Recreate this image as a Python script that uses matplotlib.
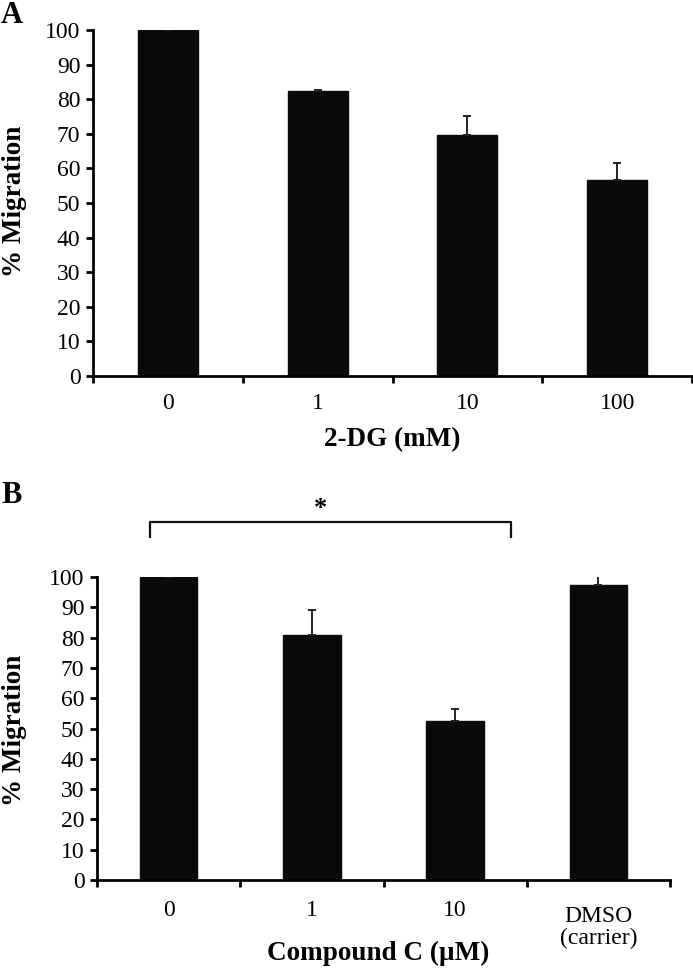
import numpy as np
import matplotlib
matplotlib.use("Agg")
import matplotlib.pyplot as plt
import matplotlib.transforms as mtransforms

# Panel A: 2-DG
dg_labels = ['0', '1', '10', '100']
dg_values = [100, 82.3, 69.7, 56.6]
dg_err = [0.2, 0.4, 5.5, 5.0]

# Panel B: Compound C
cc_labels = ['0', '1', '10', 'DMSO\n(carrier)']
cc_values = [100, 81.0, 52.6, 97.4]
cc_err = [0.0, 8.0, 3.7, 3.0]

plt.rcParams['font.family'] = ['Liberation Serif', 'DejaVu Serif']

W, H = 693, 972
fig = plt.figure(figsize=(W / 100, H / 100), dpi=100)

TICK_FS = 17
LABEL_FS = 19.5


def px_axes(l, t, r, b):
    return fig.add_axes([l / W, 1 - b / H, (r - l) / W, (b - t) / H])


def fy(py):
    return 1 - py / H


def style(ax, n):
    for s in ['top', 'right']:
        ax.spines[s].set_visible(False)
    for s in ['left', 'bottom']:
        ax.spines[s].set_linewidth(2)
    ax.set_xlim(-0.5, n - 0.5)
    ax.set_ylim(0, 100)
    ax.set_yticks(range(0, 101, 10))
    ax.tick_params(axis='y', direction='out', length=5, width=2, pad=4, labelsize=TICK_FS)
    ax.set_xticks([])
    ax.set_xticks(np.arange(-0.5, n), minor=True)
    ax.tick_params(axis='x', which='minor', direction='out', length=5, width=2)


def bars(ax, values, err, labels, label_top_px):
    x = np.arange(len(values))
    ax.bar(x, values, width=0.4, color='#0a0a0a', edgecolor='#0a0a0a', zorder=2)
    ax.errorbar(x, values, yerr=[np.zeros(len(err)), err], fmt='none',
                ecolor='#222222', elinewidth=1.4, capsize=3, capthick=1.4, zorder=3)
    trans = mtransforms.blended_transform_factory(ax.transData, fig.transFigure)
    for xi, lab in zip(x, labels):
        top = label_top_px + (6 if '\n' in lab else 0)
        ax.text(xi, fy(top), lab, transform=trans, ha='center', va='top',
                fontsize=TICK_FS, linespacing=1.05)


# Panel A
axA = px_axes(93, 30, 692, 376)
bars(axA, dg_values, dg_err, dg_labels, 393)
style(axA, len(dg_values))
fig.text((93 + 692) / 2 / W, fy(440), '2-DG (mM)', ha='center', va='center',
         fontsize=LABEL_FS, fontweight='bold')
fig.text(15 / W, fy(201), '% Migration', rotation=90, ha='center', va='center',
         fontsize=LABEL_FS, fontweight='bold')
fig.text(1 / W, fy(23), 'A', ha='left', va='baseline', fontsize=22, fontweight='bold')

# Panel B
axB = px_axes(97, 577, 670, 880)
bars(axB, cc_values, cc_err, cc_labels, 900)
style(axB, len(cc_values))
fig.text(378 / W, fy(953), 'Compound C (µM)', ha='center', va='center',
         fontsize=LABEL_FS, fontweight='bold')
fig.text(15 / W, fy(730), '% Migration', rotation=90, ha='center', va='center',
         fontsize=LABEL_FS, fontweight='bold')
fig.text(1 / W, fy(503), 'B', ha='left', va='baseline', fontsize=22, fontweight='bold')

# significance bracket between 0 and 10 uM
bx = [-0.13, -0.13, 2.39, 2.39]
by = [113.2, 118.1, 118.1, 113.2]
axB.plot(bx, by, color='#111111', lw=1.6, clip_on=False)
axB.text(1.06, 122.5, '*', ha='center', va='center', fontsize=19, fontweight='bold')

fig.savefig('out.png', dpi=100)
